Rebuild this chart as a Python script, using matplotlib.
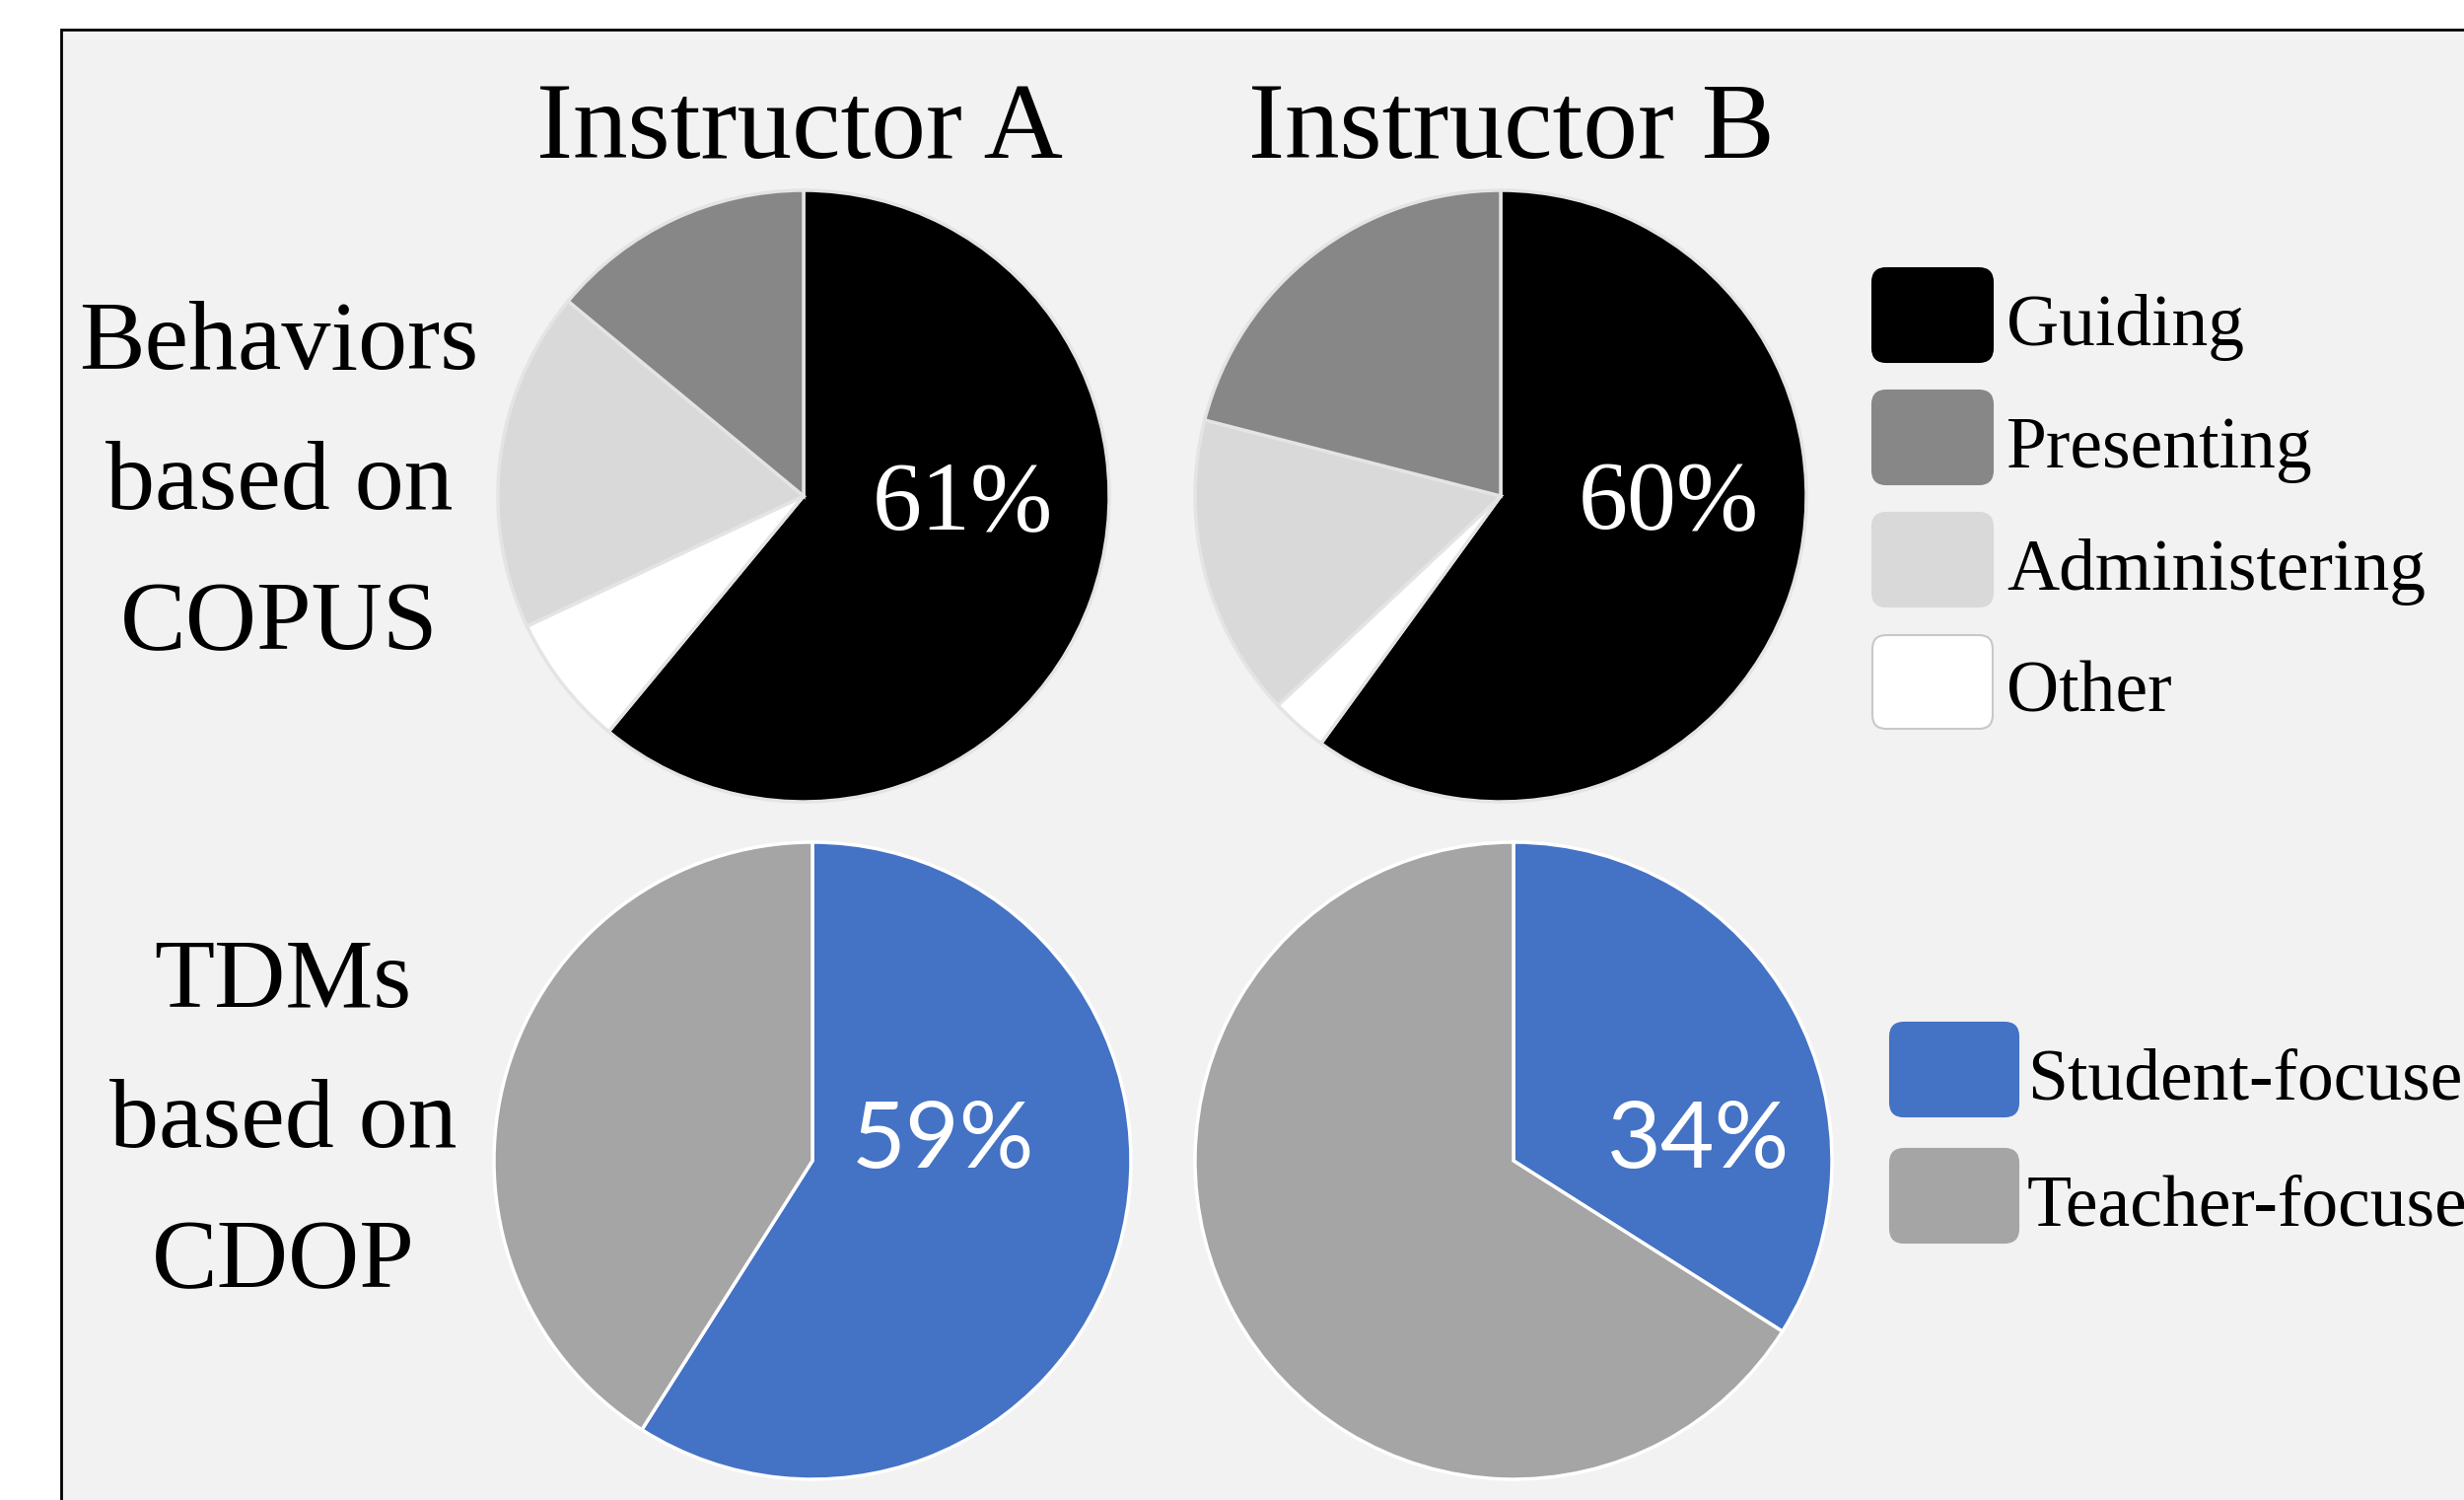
import matplotlib.pyplot as plt
from matplotlib.patches import Rectangle, FancyBboxPatch

# data
instructors = ['Instructor A', 'Instructor B']
behavior_labels = ['Guiding', 'Presenting', 'Administering', 'Other']
behavior_colors = ['#000000', '#878787', '#d9d9d9', '#ffffff']
copus_a = [61, 14, 18, 7]
copus_b = [60, 21, 16, 3]
tdm_labels = ['Student-focused', 'Teacher-focused']
tdm_colors = ['#4472c4', '#a5a5a5']
cdop_a = [59, 41]
cdop_b = [34, 66]
row_labels = [['Behaviors', 'based on', 'COPUS'], ['TDMs', 'based on', 'CDOP']]

# wedges go clockwise from 12 o'clock: Guiding, Other, Administering, Presenting
pie_order = [0, 3, 2, 1]

plt.rcParams['font.family'] = 'Liberation Serif'

W, H = 2499, 1521
fig = plt.figure(figsize=(W / 100, H / 100), dpi=100, facecolor='white')

# background axes in pixel units (y down)
bg = fig.add_axes([0, 0, 1, 1])
bg.set_xlim(0, W)
bg.set_ylim(H, 0)
bg.axis('off')
bg.add_patch(Rectangle((62, 30), W, H, facecolor='#f2f2f2',
                       edgecolor='black', linewidth=2))


def draw_pie(cx, cy, r, values, colors, edge, label, tx, ty, family, size):
    pad = 1.03
    rr = r * pad
    ax = fig.add_axes([(cx - rr) / W, (H - cy - rr) / H, 2 * rr / W, 2 * rr / H])
    ax.pie(values, colors=colors, startangle=90, counterclock=False,
           wedgeprops=dict(edgecolor=edge, linewidth=2.5))
    ax.set_xlim(-pad, pad)
    ax.set_ylim(-pad, pad)
    ax.set_aspect('equal')
    ax.axis('off')
    ax.text(tx, ty, label, color='white', ha='center', va='center',
            fontsize=size, family=family)


# top row: COPUS behaviors
for i, vals in enumerate([copus_a, copus_b]):
    cx = [815, 1522][i]
    tx = [0.52, 0.55][i]
    draw_pie(cx, 503, 310, [vals[k] for k in pie_order],
             [behavior_colors[k] for k in pie_order], '#e4e4e4',
             f'{vals[0]}%', tx, -0.03, 'Liberation Serif', 72)

# bottom row: CDOP TDMs
for i, vals in enumerate([cdop_a, cdop_b]):
    cx = [824, 1535][i]
    tx = [0.41, 0.58][i]
    draw_pie(cx, 1177, 323, vals, tdm_colors, 'white',
             f'{vals[0]}%', tx, 0.06, 'Lato', 68)

# column titles
for name, x in zip(instructors, [811, 1533]):
    bg.text(x, 160, name, ha='center', va='baseline', fontsize=80)

# row labels
for lines, y0, x in zip(row_labels, [374, 1021], [283, 287]):
    for j, line in enumerate(lines):
        bg.text(x, y0 + j * 142, line, ha='center', va='baseline', fontsize=72)


def draw_legend(labels, colors, x, y0, w, h, step, tx):
    for j, (lab, col) in enumerate(zip(labels, colors)):
        y = y0 + j * step
        edge = '#c8c8c8' if col == '#ffffff' else col
        bg.add_patch(FancyBboxPatch((x, y), w, h,
                                    boxstyle='round,pad=0,rounding_size=14',
                                    facecolor=col, edgecolor=edge, linewidth=1.5))
        bg.text(tx, y + h / 2 + 30, lab, ha='left', va='baseline', fontsize=53)


draw_legend(behavior_labels, behavior_colors, 1899, 272, 122, 95, 124, 2035)
draw_legend(tdm_labels, tdm_colors, 1917, 1037, 130, 95, 128, 2056)

fig.savefig('out.png', dpi=100, facecolor='white')
